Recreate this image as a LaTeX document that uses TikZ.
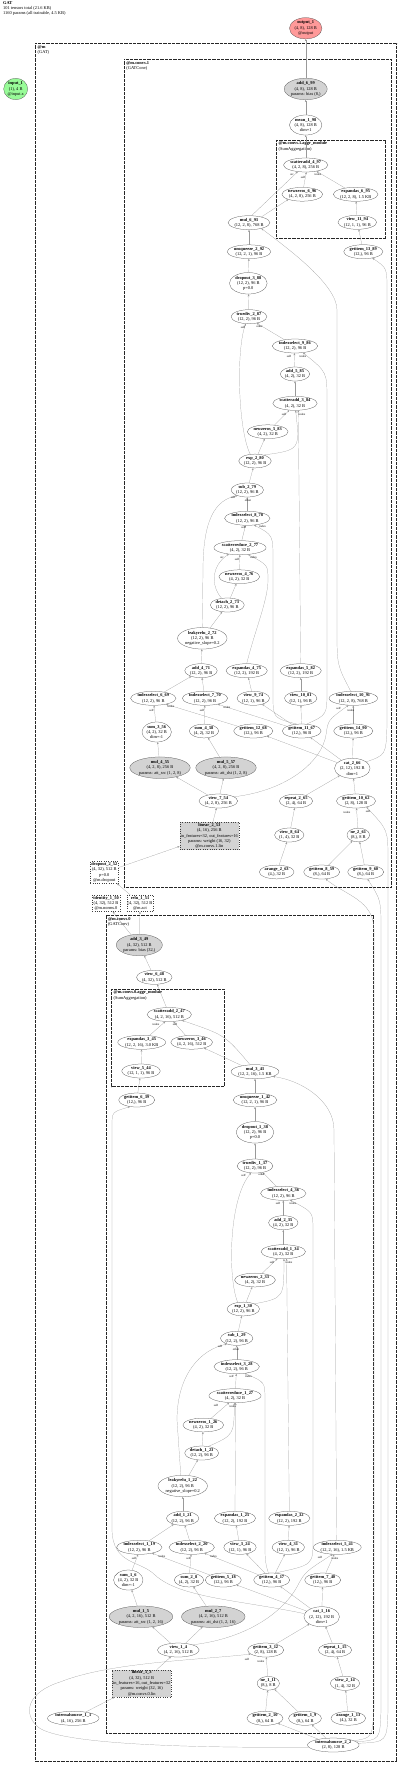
\documentclass[tikz,border=0pt]{standalone}
\usepackage{fontspec}
\setmainfont{Liberation Serif}
\usetikzlibrary{shapes.geometric,arrows.meta}
\definecolor{outpink}{HTML}{FF9999}
\definecolor{ingreen}{HTML}{98FB98}
\definecolor{pgray}{HTML}{D3D3D3}
\newcommand{\nfont}{\fontsize{4.4}{5.3}\selectfont}
\newcommand{\lfont}{\fontsize{3}{3.5}\selectfont}
\newcommand{\NL}[2]{\textbf{#1}\\#2}
\tikzset{
 nd/.style={ellipse, draw=black!70, line width=0.25pt, inner sep=0.3pt, align=center, font=\nfont},
 pnd/.style={nd, fill=pgray},
 bx/.style={rectangle, draw=black!75, line width=0.3pt, dotted, inner sep=1pt, align=center, font=\nfont},
 pbx/.style={bx, fill=pgray},
 e/.style={draw=black!40, line width=0.2pt, -{Stealth[length=2.2pt,width=1.8pt]}},
 lb/.style={font=\lfont, inner sep=0pt},
 clA/.style={draw=black!85, line width=1.2pt, dash pattern=on 0.7pt off 0.6pt},
 clB/.style={draw=black!85, line width=1.0pt, dash pattern=on 0.7pt off 0.6pt},
 clC/.style={draw=black!85, line width=0.8pt, dash pattern=on 0.7pt off 0.6pt},
 cll/.style={anchor=north west, align=left, font=\nfont, inner sep=0pt},
}
\begin{document}
\begin{tikzpicture}[x=1pt,y=-1pt]
\useasboundingbox (0,0) rectangle (400,1766);
% header
\node[anchor=north west, align=left, font=\fontsize{4.4}{4.9}\selectfont, inner sep=0pt] (hdr) at (3,1.5) {\textbf{GAT}\\101 tensors total (21.6 KB)\\1160 params (all trainable, 4.5 KB)};
% clusters
\draw[clA] (35.7,43.3) rectangle (396.7,1761.7);
\node[cll] (cm) at (37.5,45) {\textbf{@m}\\(GAT)};
\draw[clB] (124.3,59.3) rectangle (391.3,887.3);
\node[cll] (cc1) at (126.2,61) {\textbf{@m.convs.1}\\(GATConv)};
\draw[clC] (276.7,140) rectangle (385.7,238.3);
\node[cll] (ca1) at (278.5,141.5) {\textbf{@m.convs.1.aggr\_module}\\(SumAggregation)};
\draw[clB] (106,915.7) rectangle (373.3,1733.3);
\node[cll] (cc0) at (107.8,917.4) {\textbf{@m.convs.0}\\(GATConv)};
\draw[clC] (111.7,989) rectangle (224,1086.7);
\node[cll] (ca0) at (113.5,990.5) {\textbf{@m.convs.0.aggr\_module}\\(SumAggregation)};
% top nodes
\node[nd, fill=outpink] (output_1) at (305.7,28.3) {\NL{output\_1}{(4, 8), 128 B\\@output}};
\node[nd, fill=ingreen] (input_1) at (15.7,89) {\NL{input\_1}{(1), 4 B\\@input.x}};
% convs.1
\node[pnd] (add_6_99) at (305.7,89) {\NL{add\_6\_99}{(4, 8), 128 B\\params: bias (8,)}};
\node[nd] (mean_1_98) at (305.7,125) {\NL{mean\_1\_98}{(4, 8), 128 B\\dim=1}};
\node[nd] (scatteradd_4_97) at (305.7,165) {\NL{scatteradd\_4\_97}{(4, 2, 8), 256 B}};
\node[nd] (newzeros_6_96) at (302.3,194.3) {\NL{newzeros\_6\_96}{(4, 2, 8), 256 B}};
\node[nd] (expandas_6_95) at (355.7,194.3) {\NL{expandas\_6\_95}{(12, 2, 8), 1.5 KB}};
\node[nd] (view_11_94) at (357.3,222.3) {\NL{view\_11\_94}{(12, 1, 1), 96 B}};
\node[nd] (mul_6_93) at (249,222.7) {\NL{mul\_6\_93}{(12, 2, 8), 768 B}};
\node[nd] (unsqueeze_2_92) at (249,251.7) {\NL{unsqueeze\_2\_92}{(12, 2, 1), 96 B}};
\node[nd] (getitem_13_89) at (363.3,251.7) {\NL{getitem\_13\_89}{(12,), 96 B}};
\node[nd] (dropout_3_88) at (248.3,283.3) {\NL{dropout\_3\_88}{(12, 2), 96 B\\p=0.0}};
\node[nd] (truediv_2_87) at (249,316.7) {\NL{truediv\_2\_87}{(12, 2), 96 B}};
\node[nd] (indexselect_9_86) at (295,346) {\NL{indexselect\_9\_86}{(12, 2), 96 B}};
\node[nd] (add_5_85) at (295,374) {\NL{add\_5\_85}{(4, 2), 32 B}};
\node[nd] (scatteradd_3_84) at (295,403.3) {\NL{scatteradd\_3\_84}{(4, 2), 32 B}};
\node[nd] (newzeros_5_83) at (267.7,431.7) {\NL{newzeros\_5\_83}{(4, 2), 32 B}};
\node[nd] (exp_2_80) at (255,461) {\NL{exp\_2\_80}{(12, 2), 96 B}};
\node[nd] (sub_2_79) at (247.3,490) {\NL{sub\_2\_79}{(12, 2), 96 B}};
\node[nd] (indexselect_8_78) at (247.3,518.3) {\NL{indexselect\_8\_78}{(12, 2), 96 B}};
\node[nd] (scatterreduce_2_77) at (240,547.7) {\NL{scatterreduce\_2\_77}{(4, 2), 32 B}};
\node[nd] (newzeros_4_76) at (239.3,576.7) {\NL{newzeros\_4\_76}{(4, 2), 32 B}};
\node[nd] (detach_2_73) at (227.3,605) {\NL{detach\_2\_73}{(12, 2), 96 B}};
\node[nd] (leakyrelu_2_72) at (202.3,638.3) {\NL{leakyrelu\_2\_72}{(12, 2), 96 B\\negative\_slope=0.2}};
\node[nd] (add_4_71) at (201,670.7) {\NL{add\_4\_71}{(12, 2), 96 B}};
\node[nd] (expandas_4_75) at (246.7,670.7) {\NL{expandas\_4\_75}{(12, 2), 192 B}};
\node[nd] (expandas_5_82) at (300.7,670.7) {\NL{expandas\_5\_82}{(12, 2), 192 B}};
\node[nd] (indexselect_6_69) at (153.3,698.3) {\NL{indexselect\_6\_69}{(12, 2), 96 B}};
\node[nd] (indexselect_7_70) at (205,698.3) {\NL{indexselect\_7\_70}{(12, 2), 96 B}};
\node[nd] (view_9_74) at (253.3,698.3) {\NL{view\_9\_74}{(12, 1), 96 B}};
\node[nd] (view_10_81) at (300.7,698.3) {\NL{view\_10\_81}{(12, 1), 96 B}};
\node[nd] (indexselect_10_91) at (353.3,698.3) {\NL{indexselect\_10\_91}{(12, 2, 8), 768 B}};
\node[nd] (sum_3_56) at (156.7,732) {\NL{sum\_3\_56}{(4, 2), 32 B\\dim=-1}};
\node[nd] (sum_4_58) at (204,731) {\NL{sum\_4\_58}{(4, 2), 32 B}};
\node[nd] (getitem_12_68) at (253.3,731) {\NL{getitem\_12\_68}{(12,), 96 B}};
\node[nd] (getitem_11_67) at (301.7,731) {\NL{getitem\_11\_67}{(12,), 96 B}};
\node[nd] (getitem_14_90) at (353.3,731) {\NL{getitem\_14\_90}{(12,), 96 B}};
\node[pnd] (mul_4_55) at (160,767.7) {\NL{mul\_4\_55}{(4, 2, 8), 256 B\\params: att\_src (1, 2, 8)}};
\node[pnd] (mul_5_57) at (226,767.7) {\NL{mul\_5\_57}{(4, 2, 8), 256 B\\params: att\_dst (1, 2, 8)}};
\node[nd] (cat_2_66) at (352.3,768.3) {\NL{cat\_2\_66}{(2, 12), 192 B\\dim=1}};
\node[nd] (view_7_54) at (218.3,801) {\NL{view\_7\_54}{(4, 2, 8), 256 B}};
\node[nd] (repeat_2_65) at (296,801) {\NL{repeat\_2\_65}{(2, 4), 64 B}};
\node[nd] (getitem_10_62) at (356,801) {\NL{getitem\_10\_62}{(2, 8), 128 B}};
\node[pbx] (linear_2_53) at (209.3,836) {\NL{linear\_2\_53}{(4, 16), 256 B\\in\_features=32, out\_features=16\\params: weight (16, 32)\\@m.convs.1.lin}};
\node[nd] (view_8_64) at (289.3,835) {\NL{view\_8\_64}{(1, 4), 32 B}};
\node[nd] (ne_2_61) at (358.3,835) {\NL{ne\_2\_61}{(8,), 8 B}};
\node[nd] (arange_2_63) at (276.7,872) {\NL{arange\_2\_63}{(4,), 32 B}};
\node[nd] (getitem_8_59) at (321.7,872) {\NL{getitem\_8\_59}{(8,), 64 B}};
\node[nd] (getitem_9_60) at (365.7,872) {\NL{getitem\_9\_60}{(8,), 64 B}};
% between
\node[bx] (dropout_2_52) at (104.3,872.5) {\NL{dropout\_2\_52}{(4, 32), 512 B\\p=0.0\\@m.dropout}};
\node[bx] (identity_1_50) at (106,903.3) {\NL{identity\_1\_50}{(4, 32), 512 B\\@m.norms.0}};
\node[bx] (relu_1_51) at (140,903.3) {\NL{relu\_1\_51}{(4, 32), 512 B\\@m.act}};
% convs.0
\node[pnd] (add_3_49) at (139.3,945) {\NL{add\_3\_49}{(4, 32), 512 B\\params: bias (32,)}};
\node[nd] (view_6_48) at (154.3,977.3) {\NL{view\_6\_48}{(4, 32), 512 B}};
\node[nd] (scatteradd_2_47) at (169.3,1014.5) {\NL{scatteradd\_2\_47}{(4, 2, 16), 512 B}};
\node[nd] (expandas_3_45) at (141.7,1042.3) {\NL{expandas\_3\_45}{(12, 2, 16), 3.0 KB}};
\node[nd] (newzeros_3_46) at (191.7,1042.3) {\NL{newzeros\_3\_46}{(4, 2, 16), 512 B}};
\node[nd] (view_5_44) at (141,1071) {\NL{view\_5\_44}{(12, 1, 1), 96 B}};
\node[nd] (getitem_6_39) at (136.7,1100) {\NL{getitem\_6\_39}{(12,), 96 B}};
\node[nd] (mul_3_43) at (255,1071.7) {\NL{mul\_3\_43}{(12, 2, 16), 1.5 KB}};
\node[nd] (unsqueeze_1_42) at (255,1100) {\NL{unsqueeze\_1\_42}{(12, 2, 1), 96 B}};
\node[nd] (dropout_1_38) at (255,1132.3) {\NL{dropout\_1\_38}{(12, 2), 96 B\\p=0.0}};
\node[nd] (truediv_1_37) at (255,1166) {\NL{truediv\_1\_37}{(12, 2), 96 B}};
\node[nd] (indexselect_4_36) at (283.3,1193.3) {\NL{indexselect\_4\_36}{(12, 2), 96 B}};
\node[nd] (add_2_35) at (283.3,1222.7) {\NL{add\_2\_35}{(4, 2), 32 B}};
\node[nd] (scatteradd_1_34) at (283.3,1251.7) {\NL{scatteradd\_1\_34}{(4, 2), 32 B}};
\node[nd] (newzeros_2_33) at (255,1280) {\NL{newzeros\_2\_33}{(4, 2), 32 B}};
\node[nd] (exp_1_30) at (243.3,1309) {\NL{exp\_1\_30}{(12, 2), 96 B}};
\node[nd] (sub_1_29) at (236.7,1338.3) {\NL{sub\_1\_29}{(12, 2), 96 B}};
\node[nd] (indexselect_3_28) at (236.7,1366.7) {\NL{indexselect\_3\_28}{(12, 2), 96 B}};
\node[nd] (scatterreduce_1_27) at (235,1395.7) {\NL{scatterreduce\_1\_27}{(4, 2), 32 B}};
\node[nd] (newzeros_1_26) at (203.3,1425) {\NL{newzeros\_1\_26}{(4, 2), 32 B}};
\node[nd] (detach_1_23) at (201.7,1453) {\NL{detach\_1\_23}{(12, 2), 96 B}};
\node[nd] (leakyrelu_1_22) at (182.7,1486) {\NL{leakyrelu\_1\_22}{(12, 2), 96 B\\negative\_slope=0.2}};
\node[nd] (add_1_21) at (182.7,1518.3) {\NL{add\_1\_21}{(12, 2), 96 B}};
\node[nd] (expandas_1_25) at (235,1518.3) {\NL{expandas\_1\_25}{(12, 2), 192 B}};
\node[nd] (expandas_2_32) at (289.3,1518.3) {\NL{expandas\_2\_32}{(12, 2), 192 B}};
\node[nd] (indexselect_1_19) at (139.3,1547.3) {\NL{indexselect\_1\_19}{(12, 2), 96 B}};
\node[nd] (indexselect_2_20) at (191.7,1547.3) {\NL{indexselect\_2\_20}{(12, 2), 96 B}};
\node[nd] (view_3_24) at (240,1547.3) {\NL{view\_3\_24}{(12, 1), 96 B}};
\node[nd] (view_4_31) at (288.3,1547.3) {\NL{view\_4\_31}{(12, 1), 96 B}};
\node[nd] (indexselect_5_41) at (337.3,1547.3) {\NL{indexselect\_5\_41}{(12, 2, 16), 1.5 KB}};
\node[nd] (sum_1_6) at (128.3,1580) {\NL{sum\_1\_6}{(4, 2), 32 B\\dim=-1}};
\node[nd] (sum_2_8) at (189,1580) {\NL{sum\_2\_8}{(4, 2), 32 B}};
\node[nd] (getitem_5_18) at (223.3,1580) {\NL{getitem\_5\_18}{(12,), 96 B}};
\node[nd] (getitem_4_17) at (271.7,1580) {\NL{getitem\_4\_17}{(12,), 96 B}};
\node[nd] (getitem_7_40) at (322.7,1580) {\NL{getitem\_7\_40}{(12,), 96 B}};
\node[pnd] (mul_1_5) at (141,1616.7) {\NL{mul\_1\_5}{(4, 2, 16), 512 B\\params: att\_src (1, 2, 16)}};
\node[pnd] (mul_2_7) at (213.3,1616.7) {\NL{mul\_2\_7}{(4, 2, 16), 512 B\\params: att\_dst (1, 2, 16)}};
\node[nd] (cat_1_16) at (321.7,1616.7) {\NL{cat\_1\_16}{(2, 12), 192 B\\dim=1}};
\node[nd] (view_1_4) at (178.3,1650) {\NL{view\_1\_4}{(4, 2, 16), 512 B}};
\node[nd] (getitem_3_12) at (265.7,1650) {\NL{getitem\_3\_12}{(2, 8), 128 B}};
\node[nd] (repeat_1_15) at (335,1650) {\NL{repeat\_1\_15}{(2, 4), 64 B}};
\node[pbx] (linear_1_3) at (141.7,1683.3) {\NL{linear\_1\_3}{(4, 32), 512 B\\in\_features=16, out\_features=32\\params: weight (32, 16)\\@m.convs.0.lin}};
\node[nd] (ne_1_11) at (268.3,1683.3) {\NL{ne\_1\_11}{(8,), 8 B}};
\node[nd] (view_2_14) at (345,1683.3) {\NL{view\_2\_14}{(1, 4), 32 B}};
\node[nd] (internalsource_1_1) at (73.3,1718.3) {\NL{internalsource\_1\_1}{(4, 16), 256 B}};
\node[nd] (getitem_2_10) at (265,1718.3) {\NL{getitem\_2\_10}{(8,), 64 B}};
\node[nd] (getitem_1_9) at (305,1718.3) {\NL{getitem\_1\_9}{(8,), 64 B}};
\node[nd] (arange_1_13) at (348.3,1718.3) {\NL{arange\_1\_13}{(4,), 32 B}};
\node[nd] (internalsource_2_2) at (333.3,1745) {\NL{internalsource\_2\_2}{(2, 8), 128 B}};
% ===== edges convs.1 =====
\draw[e] (add_6_99) -- (output_1);
\draw[e] (mean_1_98) -- (add_6_99);
\draw[e] (scatteradd_4_97) -- (mean_1_98);
\draw[e] (newzeros_6_96) -- (scatteradd_4_97.-85);
\draw[e] (expandas_6_95) -- (scatteradd_4_97.-30);
\draw[e] (mul_6_93.70) -- (scatteradd_4_97.-140);
\draw[e] (mul_6_93.25) -- (newzeros_6_96.200);
\draw[e] (view_11_94) -- (expandas_6_95);
\draw[e] (getitem_13_89) -- (view_11_94);
\draw[e] (unsqueeze_2_92) -- (mul_6_93);
\draw[e] (indexselect_10_91.110) .. controls (337,665) .. (337,630) -- (337,310) .. controls (337,285) and (290,250) .. (mul_6_93.-25);
\draw[e] (dropout_3_88) -- (unsqueeze_2_92);
\draw[e] (truediv_2_87) -- (dropout_3_88);
\draw[e] (indexselect_9_86) -- (truediv_2_87.-40);
\draw[e] (exp_2_80.125) .. controls (238,430) and (236,350) .. (truediv_2_87.-115);
\draw[e] (add_5_85) -- (indexselect_9_86.-95);
\draw[e] (getitem_11_67.55) .. controls (327,715) .. (327,690) -- (327,400) .. controls (327,372) .. (indexselect_9_86.-40);
\draw[e] (scatteradd_3_84) -- (add_5_85);
\draw[e] (newzeros_5_83) -- (scatteradd_3_84.-130);
\draw[e] (exp_2_80.35) .. controls (300,450) .. (scatteradd_3_84.-85);
\draw[e] (expandas_5_82.north) -- (scatteradd_3_84.-65);
\draw[e] (exp_2_80) -- (newzeros_5_83);
\draw[e] (sub_2_79) -- (exp_2_80);
\draw[e] (indexselect_8_78) -- (sub_2_79);
\draw[e] (leakyrelu_2_72.north) -- (203,570) .. controls (203,520) and (215,500) .. (sub_2_79.-150);
\draw[e] (getitem_11_67.125) .. controls (273,718) .. (273,695) -- (273,560) .. controls (273,535) .. (indexselect_8_78.-45);
\draw[e] (scatterreduce_2_77) -- (indexselect_8_78);
\draw[e] (newzeros_4_76) -- (scatterreduce_2_77);
\draw[e] (detach_2_73.130) .. controls (210,585) and (212,565) .. (scatterreduce_2_77.-150);
\draw[e] (expandas_4_75.north) .. controls (255,630) and (268,600) .. (268,580) .. controls (268,565) .. (scatterreduce_2_77.-40);
\draw[e] (detach_2_73) -- (newzeros_4_76);
\draw[e] (leakyrelu_2_72) -- (detach_2_73);
\draw[e] (add_4_71) -- (leakyrelu_2_72);
\draw[e] (indexselect_6_69) -- (add_4_71);
\draw[e] (indexselect_7_70) -- (add_4_71);
\draw[e] (view_9_74) -- (expandas_4_75);
\draw[e] (view_10_81) -- (expandas_5_82);
\draw[e] (sum_3_56) -- (indexselect_6_69);
\draw[e] (sum_4_58) -- (indexselect_7_70);
\draw[e] (getitem_12_68) -- (indexselect_6_69.-25);
\draw[e] (getitem_11_67) -- (indexselect_7_70.-25);
\draw[e] (getitem_11_67) -- (view_9_74);
\draw[e] (getitem_11_67) -- (view_10_81);
\draw[e] (getitem_14_90) -- (indexselect_10_91);
\draw[e] (view_7_54.15) .. controls (290,790) and (322,760) .. (326,735) .. controls (328,720) .. (indexselect_10_91.-125);
\draw[e] (mul_4_55) -- (sum_3_56);
\draw[e] (mul_5_57) -- (sum_4_58);
\draw[e] (view_7_54) -- (mul_4_55);
\draw[e] (view_7_54) -- (mul_5_57);
\draw[e] (linear_2_53) -- (view_7_54);
\draw[e] (dropout_2_52) -- (linear_2_53);
\draw[e] (cat_2_66) -- (getitem_12_68);
\draw[e] (cat_2_66) -- (getitem_11_67);
\draw[e] (cat_2_66) -- (getitem_14_90);
\draw[e] (cat_2_66.25) .. controls (386,755) .. (387,725) -- (387,290) .. controls (387,268) .. (getitem_13_89.-35);
\draw[e] (repeat_2_65) -- (cat_2_66);
\draw[e] (getitem_10_62) -- (cat_2_66);
\draw[e] (view_8_64) -- (repeat_2_65);
\draw[e] (arange_2_63) -- (view_8_64);
\draw[e] (ne_2_61) -- (getitem_10_62);
\draw[e] (getitem_8_59) -- (ne_2_61);
\draw[e] (getitem_9_60) -- (ne_2_61);
\draw[e] (internalsource_2_2.12) .. controls (372,1738) .. (374,1710) -- (374,930) .. controls (374,900) and (345,895) .. (getitem_8_59.-60);
\draw[e] (internalsource_2_2.8) .. controls (380,1740) .. (381,1710) -- (381,930) .. controls (381,900) .. (getitem_9_60.-75);
\draw[e] (internalsource_2_2.4) .. controls (387,1742) .. (388,1710) -- (388,860) .. controls (388,830) .. (getitem_10_62.-30);
% ===== edges between / convs.0 =====
\draw[e] (add_3_49) -- (identity_1_50);
\draw[e] (add_3_49.88) -- (relu_1_51);
\draw[e] (relu_1_51) -- (dropout_2_52);
\draw[e] (view_6_48) -- (add_3_49);
\draw[e] (scatteradd_2_47) -- (view_6_48);
\draw[e] (expandas_3_45) -- (scatteradd_2_47.-120);
\draw[e] (newzeros_3_46) -- (scatteradd_2_47.-60);
\draw[e] (mul_3_43.125) .. controls (225,1035) .. (scatteradd_2_47.-25);
\draw[e] (mul_3_43) -- (newzeros_3_46);
\draw[e] (view_5_44) -- (expandas_3_45);
\draw[e] (getitem_6_39) -- (view_5_44);
\draw[e] (unsqueeze_1_42) -- (mul_3_43);
\draw[e] (indexselect_5_41.95) -- (334,1130) .. controls (334,1100) and (300,1080) .. (mul_3_43.-15);
\draw[e] (dropout_1_38) -- (unsqueeze_1_42);
\draw[e] (truediv_1_37) -- (dropout_1_38);
\draw[e] (indexselect_4_36) -- (truediv_1_37.-40);
\draw[e] (exp_1_30.130) .. controls (228,1280) and (228,1200) .. (truediv_1_37.-120);
\draw[e] (add_2_35) -- (indexselect_4_36);
\draw[e] (getitem_4_17.65) .. controls (313,1565) .. (313,1540) -- (313,1230) .. controls (313,1212) .. (indexselect_4_36.-45);
\draw[e] (scatteradd_1_34) -- (add_2_35);
\draw[e] (newzeros_2_33) -- (scatteradd_1_34.-130);
\draw[e] (exp_1_30.25) .. controls (284,1298) .. (scatteradd_1_34.-85);
\draw[e] (expandas_2_32.north) -- (scatteradd_1_34.-65);
\draw[e] (exp_1_30) -- (newzeros_2_33);
\draw[e] (sub_1_29) -- (exp_1_30);
\draw[e] (indexselect_3_28) -- (sub_1_29);
\draw[e] (leakyrelu_1_22.100) -- (177,1420) .. controls (177,1375) and (200,1350) .. (sub_1_29.-150);
\draw[e] (getitem_4_17.115) .. controls (265,1562) .. (265,1540) -- (265,1400) .. controls (265,1382) .. (indexselect_3_28.-40);
\draw[e] (scatterreduce_1_27) -- (indexselect_3_28);
\draw[e] (newzeros_1_26) -- (scatterreduce_1_27.-130);
\draw[e] (detach_1_23.45) .. controls (234,1435) .. (scatterreduce_1_27.-95);
\draw[e] (expandas_1_25.north) -- (scatterreduce_1_27.-85);
\draw[e] (detach_1_23) -- (newzeros_1_26);
\draw[e] (leakyrelu_1_22) -- (detach_1_23);
\draw[e] (add_1_21) -- (leakyrelu_1_22);
\draw[e] (indexselect_1_19) -- (add_1_21);
\draw[e] (indexselect_2_20) -- (add_1_21);
\draw[e] (view_3_24) -- (expandas_1_25);
\draw[e] (view_4_31) -- (expandas_2_32);
\draw[e] (sum_1_6) -- (indexselect_1_19.-100);
\draw[e] (sum_2_8) -- (indexselect_2_20.-95);
\draw[e] (getitem_5_18) -- (indexselect_1_19.-25);
\draw[e] (getitem_4_17) -- (indexselect_2_20.-25);
\draw[e] (getitem_4_17) -- (view_3_24);
\draw[e] (getitem_4_17) -- (view_4_31);
\draw[e] (getitem_7_40) -- (indexselect_5_41);
\draw[e] (view_1_4.20) .. controls (250,1638) and (285,1610) .. (298,1585) .. controls (305,1572) .. (indexselect_5_41.-125);
\draw[e] (mul_1_5) -- (sum_1_6);
\draw[e] (mul_2_7) -- (sum_2_8);
\draw[e] (view_1_4) -- (mul_1_5);
\draw[e] (view_1_4) -- (mul_2_7);
\draw[e] (linear_1_3) -- (view_1_4);
\draw[e] (internalsource_1_1) -- (linear_1_3);
\draw[e] (cat_1_16) -- (getitem_4_17);
\draw[e] (cat_1_16) -- (getitem_5_18);
\draw[e] (cat_1_16) -- (getitem_7_40);
\draw[e] (cat_1_16.170) .. controls (240,1600) and (180,1598) .. (155,1575) .. controls (140,1560) and (113,1565) .. (112,1530) -- (112,1125) .. controls (112,1112) .. (getitem_6_39.-135);
\draw[e] (getitem_3_12) -- (cat_1_16);
\draw[e] (repeat_1_15) -- (cat_1_16);
\draw[e] (view_2_14) -- (repeat_1_15);
\draw[e] (arange_1_13) -- (view_2_14);
\draw[e] (ne_1_11) -- (getitem_3_12);
\draw[e] (getitem_2_10) -- (ne_1_11);
\draw[e] (getitem_1_9) -- (ne_1_11);
\draw[e] (internalsource_2_2) -- (getitem_2_10);
\draw[e] (internalsource_2_2) -- (getitem_1_9);
\draw[e] (internalsource_2_2.185) .. controls (200,1748) and (60,1745) .. (38,1727) .. controls (22,1713) and (28,1692) .. (60,1682) .. controls (110,1662) and (200,1660) .. (getitem_3_12.195);
% ===== edge labels =====
\node[lb] (l1) at (292,174.5) {src};
\node[lb] (l2) at (303,177) {self};
\node[lb] (l3) at (318,174.5) {index};
\node[lb] (l4) at (243,327.5) {self};
\node[lb] (l5) at (259.5,326) {other};
\node[lb] (l6) at (289,356.5) {self};
\node[lb] (l7) at (303,356) {index};
\node[lb] (l8) at (284,414) {self};
\node[lb] (l9) at (302,414) {index};
\node[lb] (l10) at (243.5,527.5) {self};
\node[lb] (l11) at (262.5,526) {index};
\node[lb] (l12) at (233,497) {self};
\node[lb] (l13) at (248,500.5) {other};
\node[lb] (l14) at (222,557.5) {src};
\node[lb] (l15) at (237,559) {self};
\node[lb] (l16) at (253.5,557.5) {index};
\node[lb] (l17) at (151.5,710) {self};
\node[lb] (l18) at (171,706.5) {index};
\node[lb] (l19) at (202,710) {self};
\node[lb] (l20) at (227,707) {index};
\node[lb] (l21) at (338.5,708) {self};
\node[lb] (l22) at (351,710.5) {index};
\node[lb] (l23) at (347,812) {index};
\node[lb] (l24) at (368,811) {self};
\node[lb] (l25) at (156,1024.5) {index};
\node[lb] (l26) at (175,1024.5) {self};
\node[lb] (l27) at (243.5,1175) {self};
\node[lb] (l28) at (261.5,1174) {other};
\node[lb] (l29) at (278,1203) {self};
\node[lb] (l30) at (293,1203) {index};
\node[lb] (l31) at (272,1262) {self};
\node[lb] (l32) at (289,1262) {index};
\node[lb] (l33) at (220,1346) {self};
\node[lb] (l34) at (236,1349) {other};
\node[lb] (l35) at (231.5,1376.5) {self};
\node[lb] (l36) at (248.5,1376.5) {index};
\node[lb] (l37) at (216,1405.5) {self};
\node[lb] (l38) at (233,1406) {index};
\node[lb] (l39) at (134,1558) {self};
\node[lb] (l40) at (162,1556) {index};
\node[lb] (l41) at (188.5,1558) {self};
\node[lb] (l42) at (213.5,1556) {index};
\node[lb] (l43) at (320,1557) {self};
\node[lb] (l44) at (335,1558.5) {index};
\node[lb] (l45) at (247,1659) {self};
\node[lb] (l46) at (261,1661) {index};
\end{tikzpicture}
\end{document}
